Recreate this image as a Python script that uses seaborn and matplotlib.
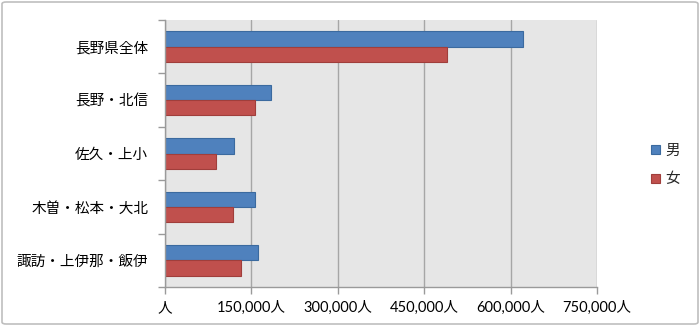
import matplotlib
matplotlib.use("Agg")
import matplotlib.pyplot as plt
import seaborn as sns
import pandas as pd
from matplotlib.patches import FancyBboxPatch, Patch
from matplotlib.ticker import FuncFormatter

regions = ["長野県全体", "長野・北信", "佐久・上小", "木曽・松本・大北", "諏訪・上伊那・飯伊"]
male = [620700, 184500, 119500, 156600, 161300]
female = [489500, 155400, 88200, 117200, 131700]
series = ["男", "女"]
xticks = [0, 150000, 300000, 450000, 600000, 750000]

df = pd.DataFrame({
    "region": regions * 2,
    "value": male + female,
    "sex": [series[0]] * len(regions) + [series[1]] * len(regions),
})

sns.set_style("white")
plt.rcParams["font.family"] = ["Noto Sans CJK JP", "DejaVu Sans"]

colors = {"男": "#4F81BD", "女": "#C0504D"}
edges = {"男": "#3B6A9F", "女": "#A03E3B"}

fig = plt.figure(figsize=(7.0, 3.26), dpi=100)
ax = fig.add_axes([165 / 700, 1 - 287 / 326, 432 / 700, 267 / 326])

sns.barplot(data=df, y="region", x="value", hue="sex", hue_order=series,
            order=regions, palette=colors, orient="h", width=0.575,
            ax=ax, legend=False, saturation=1)

for bars, s in zip(ax.containers, series):
    for b in bars:
        b.set_edgecolor(edges[s])
        b.set_linewidth(0.8)

ax.set_facecolor("#E6E6E6")
ax.set_xlim(0, 750000)
ax.set_ylim(4.5, -0.5)
ax.set_xticks(xticks)
ax.xaxis.set_major_formatter(FuncFormatter(lambda v, p: "人" if v == 0 else f"{int(v):,}人"))
ax.grid(axis="x", color="#A6A6A6", linewidth=1.0)
ax.set_axisbelow(True)
ax.set_xlabel("")
ax.set_ylabel("")

for s in ["top", "right"]:
    ax.spines[s].set_visible(False)
for s in ["left", "bottom"]:
    ax.spines[s].set_color("#9A9A9A")
    ax.spines[s].set_linewidth(1.0)

ax.tick_params(axis="x", length=5, width=1, color="#9A9A9A", pad=5, labelsize=10.5, labelcolor="#000000", direction="out", bottom=True)
for lbl in ax.get_xticklabels():
    lbl.set_fontfamily(["Lato", "Noto Sans CJK JP"])
ax.tick_params(axis="y", which="major", length=0, pad=12, labelsize=10.5, labelcolor="#000000")
ax.set_yticks([i - 0.5 for i in range(len(regions) + 1)], minor=True)
ax.tick_params(axis="y", which="minor", length=5, width=1, color="#9A9A9A", direction="out", left=True)

handles = [Patch(facecolor=colors[s], edgecolor=edges[s], linewidth=0.8) for s in series]
fig.legend(handles, series, loc="center left", bbox_to_anchor=(645 / 700, 1 - 165 / 326),
           frameon=False, fontsize=10.5, handlelength=0.6, handleheight=0.6,
           handletextpad=0.4, labelspacing=1.0, borderaxespad=0)

border = FancyBboxPatch((2 / 700, 2 / 326), 696 / 700, 322 / 326,
                        boxstyle="round,pad=0,rounding_size=0.006",
                        transform=fig.transFigure, facecolor="none",
                        edgecolor="#BFBFBF", linewidth=1.2)
fig.patches.append(border)

fig.savefig("out.png", dpi=100)
